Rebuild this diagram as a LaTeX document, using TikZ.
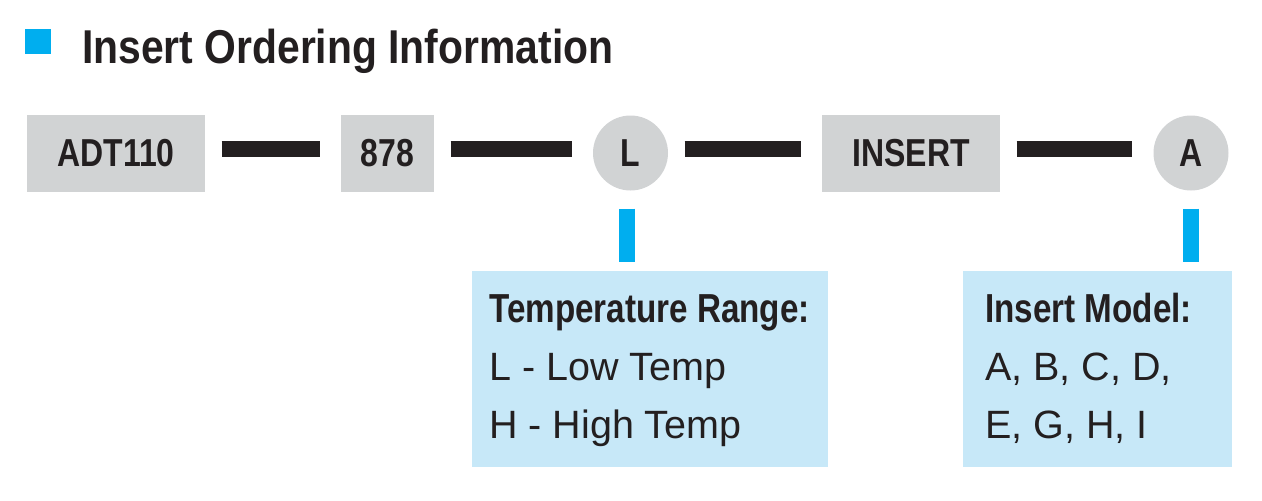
\documentclass[tikz,border=0pt]{standalone}
\usepackage{fontspec}
\setmainfont{Liberation Sans}
\newfontfamily\condfont{Liberation Sans}[FakeStretch=0.82]
\newfontfamily\headfont{Liberation Sans}[FakeStretch=0.86]
\usetikzlibrary{positioning}
\definecolor{partgray}{HTML}{D1D3D4}
\definecolor{cyanbar}{HTML}{00AEEF}
\definecolor{notefill}{HTML}{C7E8F8}
\definecolor{inkblack}{HTML}{231F20}

\begin{document}
\begin{tikzpicture}[x=1pt,y=-1pt,
  part/.style={fill=partgray,inner sep=0pt,minimum height=77pt,text=inkblack,
    font=\condfont\bfseries\fontsize{39}{39}\selectfont},
  choice/.style={circle,fill=partgray,inner sep=0pt,minimum size=75pt,text=inkblack,
    font=\condfont\bfseries\fontsize{39}{39}\selectfont},
  link/.style={draw=inkblack,line width=16pt,shorten <=16.5pt,shorten >=21pt},
  tick/.style={draw=cyanbar,line width=16pt,shorten <=18pt,shorten >=9pt},
  notebox/.style={fill=notefill,inner sep=0pt,anchor=north west,minimum height=196pt},
  notehead/.style={anchor=base west,inner sep=0pt,text=inkblack,
    font=\condfont\bfseries\fontsize{40.5}{40.5}\selectfont},
  noteline/.style={anchor=base west,inner sep=0pt,text=inkblack,
    font=\fontsize{39.5}{39.5}\selectfont}]
  \useasboundingbox (0,0) rectangle (1262,501);
  \fill[cyanbar] (25,29) rectangle (51,54);
  \node[anchor=base west,inner sep=0pt,text=inkblack,
    font=\headfont\bfseries\fontsize{47.5}{47.5}\selectfont] (title) at (82,63) {Insert Ordering Information};

  \node[part,minimum width=178pt] (adt) at (116,153) {ADT110};
  \node[part,minimum width=93pt] (n878) at (387.5,153) {878};
  \node[choice] (temp) at (630.5,153) {L};
  \node[part,minimum width=178pt] (insert) at (911,153) {INSERT};
  \node[choice] (model) at (1191,153) {A};
  \foreach \a/\b in {adt/n878,n878/temp,temp/insert,insert/model}
    \draw[link] ([yshift=4pt]\a.east) -- ([yshift=4pt]\b.west);

  \node[notebox,minimum width=356pt] (rangebox) at (472,271) {};
  \node[notebox,minimum width=269pt] (modelbox) at (963,271) {};
  \draw[tick] ([xshift=-4pt]temp.south) -- ([xshift=-4pt]temp.south |- rangebox.north);
  \draw[tick] (model.south) -- (model.south |- modelbox.north);

  \node[notehead] (rangehead) at (489,322) {Temperature Range:};
  \node[noteline] (rangelow) at (489,380) {L - Low Temp};
  \node[noteline] (rangehigh) at (489,438) {H - High Temp};
  \node[notehead] (modelhead) at (985,322) {Insert Model:};
  \node[noteline] (modelrow1) at (985,380) {A, B, C, D,};
  \node[noteline] (modelrow2) at (985,438) {E, G, H, I};
\end{tikzpicture}
\end{document}
